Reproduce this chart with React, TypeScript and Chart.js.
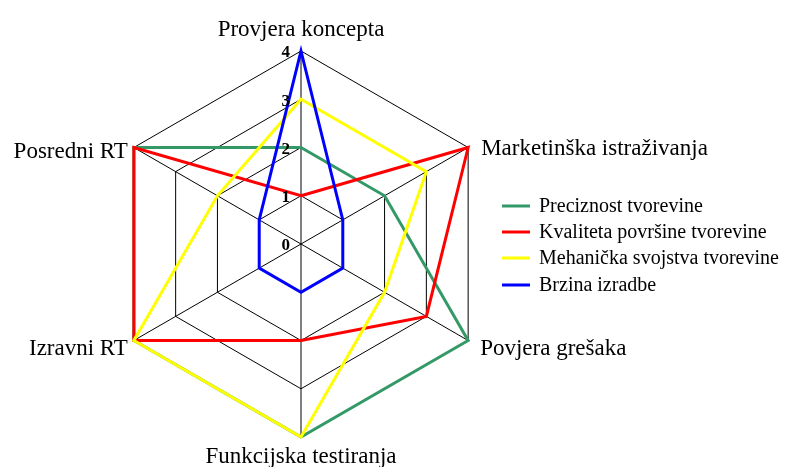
import React, { useEffect, useRef } from "react";
import { Chart, registerables } from "chart.js";

Chart.register(...registerables);

const categories = [
  "Provjera koncepta",
  "Marketinška istraživanja",
  "Povjera grešaka",
  "Funkcijska testiranja",
  "Izravni RT",
  "Posredni RT",
];
const tickValues = [0, 1, 2, 3, 4];
const seriesNames = [
  "Preciznost tvorevine",
  "Kvaliteta površine tvorevine",
  "Mehanička svojstva tvorevine",
  "Brzina izradbe",
];
const preciznost = [2, 2, 4, 4, 4, 4];
const kvaliteta = [1, 4, 3, 2, 4, 4];
const mehanicka = [3, 3, 2, 4, 4, 2];
const brzina = [4, 1, 1, 1, 1, 1];
const seriesColors = ["#339966", "#FF0000", "#FFFF00", "#0000FF"];

const SERIF = "'Liberation Serif', 'Times New Roman', serif";

// label offsets relative to outer vertex: [dx, dy, align]
const labelOffsets: [number, number, CanvasTextAlign][] = [
  [0, -15, "center"],
  [13, 7, "left"],
  [12, 14, "left"],
  [0, 26, "center"],
  [-6, 14, "right"],
  [-6, 10, "right"],
];

const labelsPlugin = {
  id: "customLabels",
  afterDraw(chart: any) {
    const scale = chart.scales.r;
    const ctx = chart.ctx;
    ctx.save();
    // point labels
    ctx.fillStyle = "#000";
    ctx.font = `23px ${SERIF}`;
    ctx.textBaseline = "alphabetic";
    categories.forEach((c, i) => {
      const p = scale.getPointPosition(i, scale.drawingArea);
      const [dx, dy, al] = labelOffsets[i];
      ctx.textAlign = al;
      ctx.fillText(c, p.x + dx, p.y + dy);
    });
    // tick labels
    ctx.font = `bold 17px ${SERIF}`;
    ctx.textAlign = "right";
    ctx.textBaseline = "middle";
    tickValues.forEach((v) => {
      const d = scale.getDistanceFromCenterForValue(v);
      const p = scale.getPointPosition(0, d);
      ctx.fillText(String(v), p.x - 11, p.y + 2);
    });
    // legend
    ctx.font = `20px ${SERIF}`;
    ctx.textAlign = "left";
    ctx.textBaseline = "middle";
    const legendY = [206, 232, 258, 285];
    chart.data.datasets.forEach((ds: any, i: number) => {
      const y = legendY[i];
      ctx.strokeStyle = ds.borderColor;
      ctx.lineWidth = 3;
      ctx.beginPath();
      ctx.moveTo(502, y);
      ctx.lineTo(530, y);
      ctx.stroke();
      ctx.fillStyle = "#000";
      ctx.fillText(ds.label, 539, y + 1);
    });
    ctx.restore();
  },
};

export default function App() {
  const ref = useRef<HTMLCanvasElement>(null);
  useEffect(() => {
    if (!ref.current) return;
    const data = [preciznost, kvaliteta, mehanicka, brzina];
    const orders = [4, 3, 2, 1];
    const chart = new Chart(ref.current, {
      type: "radar",
      data: {
        labels: categories,
        datasets: seriesNames.map((n, i) => ({
          label: n,
          data: data[i],
          borderColor: seriesColors[i],
          backgroundColor: seriesColors[i],
          borderWidth: 3,
          fill: false,
          pointRadius: 0,
          pointHoverRadius: 0,
          tension: 0,
          order: orders[i],
        })),
      },
      options: {
        responsive: false,
        animation: false,
        devicePixelRatio: 1,
        layout: { padding: { left: 108, right: 293, top: 51, bottom: 30 } },
        plugins: { legend: { display: false }, tooltip: { enabled: false } },
        scales: {
          r: {
            min: 0,
            max: 4,
            ticks: { display: false, stepSize: 1 },
            pointLabels: { display: false },
            grid: { color: "#000", lineWidth: 1, circular: false },
            angleLines: { color: "#000", lineWidth: 1 },
          },
        },
      },
      plugins: [labelsPlugin],
    });
    return () => chart.destroy();
  }, []);
  return (
    <div style={{ position: "absolute", left: 0, top: 0, width: 787, height: 467, background: "#fff" }}>
      <canvas ref={ref} width={787} height={467} />
    </div>
  );
}
